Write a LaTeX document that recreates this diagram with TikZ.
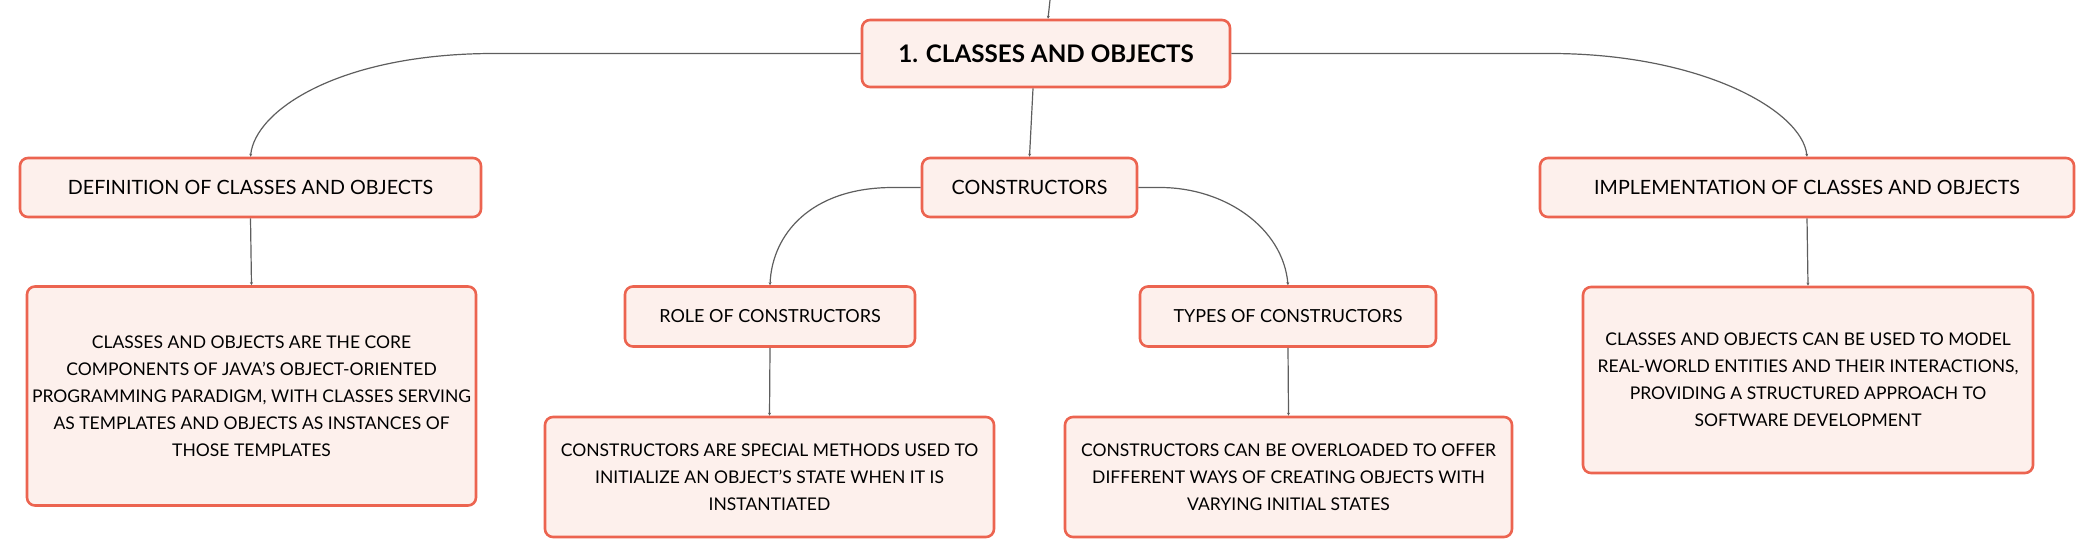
\documentclass[tikz,border=0pt]{standalone}
\usepackage{fontspec}
\setmainfont{Lato}
\usetikzlibrary{arrows.meta}
\definecolor{boxfill}{HTML}{FDF0EC}
\definecolor{boxline}{HTML}{EC6450}
\definecolor{linkline}{HTML}{5E5E5E}
\begin{document}
\begin{tikzpicture}[x=1pt,y=-1pt,
  box/.style={draw=boxline, fill=boxfill, line width=2.6pt, rounded corners=8pt,
    inner sep=0pt, align=center, font=\fontsize{17.5}{27}\selectfont},
  topicbox/.style={box, font=\fontsize{19.7}{24}\selectfont},
  subbox/.style={box, font=\fontsize{18}{24}\selectfont},
  mainbox/.style={box, font=\fontsize{24.2}{28}\bfseries},
  link/.style={draw=linkline, line width=1.2pt, -{Stealth[length=3pt,width=3pt]}},
]
\useasboundingbox (0,0) rectangle (2095,559);
\node[mainbox, minimum width=368pt, minimum height=67pt] (central) at (1046,53.5) {1. CLASSES AND OBJECTS};
\node[topicbox, minimum width=461pt, minimum height=59pt] (def) at (250.5,187.5) {DEFINITION OF CLASSES AND OBJECTS};
\node[topicbox, minimum width=215pt, minimum height=59pt] (cons) at (1029.5,187.5) {CONSTRUCTORS};
\node[topicbox, minimum width=534pt, minimum height=59pt] (impl) at (1807,187.5) {IMPLEMENTATION OF CLASSES AND OBJECTS};
\node[box, minimum width=449pt, minimum height=219pt] (defd) at (251.5,396) {CLASSES AND OBJECTS ARE THE CORE\\COMPONENTS OF JAVA'S OBJECT-ORIENTED\\PROGRAMMING PARADIGM, WITH CLASSES SERVING\\AS TEMPLATES AND OBJECTS AS INSTANCES OF\\THOSE TEMPLATES};
\node[subbox, minimum width=290pt, minimum height=60pt] (role) at (770,316.5) {ROLE OF CONSTRUCTORS};
\node[subbox, minimum width=296pt, minimum height=60pt] (types) at (1288,316.5) {TYPES OF CONSTRUCTORS};
\node[box, minimum width=449pt, minimum height=120pt] (roled) at (769.5,477) {CONSTRUCTORS ARE SPECIAL METHODS USED TO\\INITIALIZE AN OBJECT'S STATE WHEN IT IS\\INSTANTIATED};
\node[box, minimum width=447pt, minimum height=120pt] (typesd) at (1288.5,477) {CONSTRUCTORS CAN BE OVERLOADED TO OFFER\\DIFFERENT WAYS OF CREATING OBJECTS WITH\\VARYING INITIAL STATES};
\node[box, minimum width=450pt, minimum height=186pt] (impld) at (1808,380) {CLASSES AND OBJECTS CAN BE USED TO MODEL\\REAL-WORLD ENTITIES AND THEIR INTERACTIONS,\\PROVIDING A STRUCTURED APPROACH TO\\SOFTWARE DEVELOPMENT};

\coordinate (topin) at (1050,0);
\coordinate (lbend) at (494,53.5);
\coordinate (rbend) at (1550,53.5);
\coordinate (rlbend) at (893,187.5);
\coordinate (trbend) at (1160,187.5);

\draw[link] (topin) -- ([xshift=2pt]central.north);
\draw[link] ([xshift=-13pt]central.south) -- (cons.north);
\draw[link] (central.west) -- (lbend) .. controls (340,53.5) and (255,110) .. (def.north);
\draw[link] (central.east) -- (rbend) .. controls (1700,53.5) and (1802,110) .. (impl.north);
\draw[link] (cons.west) -- (rlbend) .. controls (810,187.5) and (772,235) .. (role.north);
\draw[link] (cons.east) -- (trbend) .. controls (1225,187.5) and (1283,228) .. (types.north);
\draw[link] (def.south) -- (defd.north);
\draw[link] (role.south) -- (roled.north);
\draw[link] (types.south) -- (typesd.north);
\draw[link] (impl.south) -- (impld.north);
\end{tikzpicture}
\end{document}
